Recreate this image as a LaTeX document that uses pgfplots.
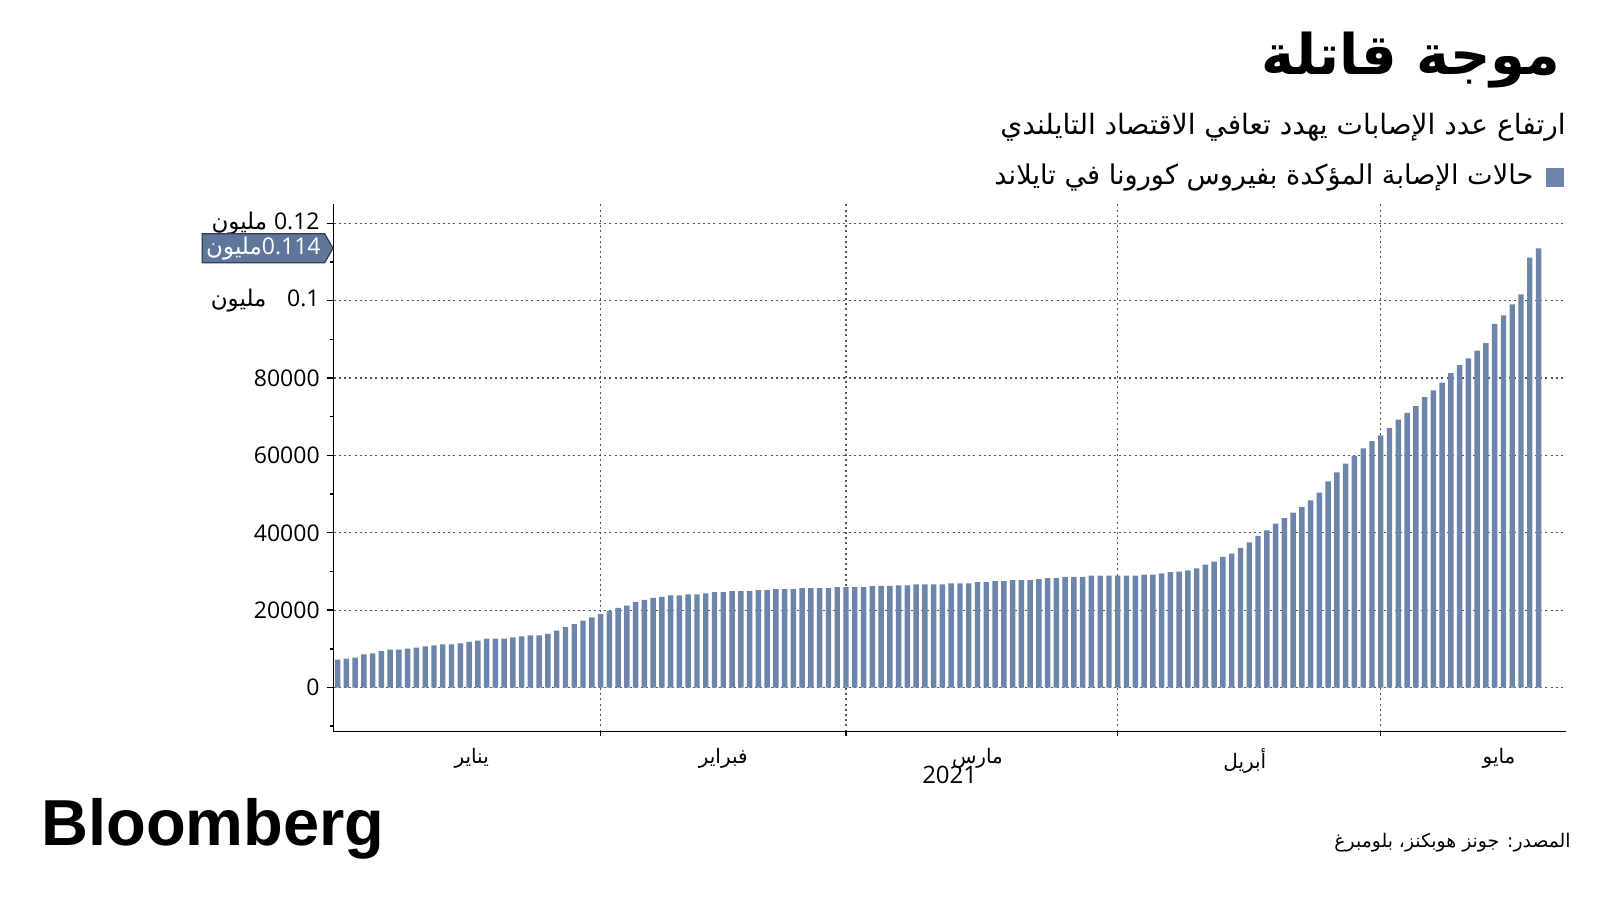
\documentclass[border=0pt]{standalone}
\usepackage{fontspec}
\usepackage{pgfplots}
\pgfplotsset{compat=1.18}
\usetikzlibrary{shapes.symbols}
\TeXXeTstate=1
\setmainfont{Open Sans}
\newfontfamily\arabicfont[Script=Arabic]{DejaVu Sans}
\newfontfamily\logofont{Liberation Sans}
\newcommand{\ar}[1]{{\arabicfont\beginR #1\endR}}
\newcommand{\arw}[1]{\mbox{\arabicfont #1}}
\definecolor{barblue}{HTML}{6D85AA}
\definecolor{annofill}{HTML}{5E7699}
\definecolor{annoedge}{HTML}{2E3F57}
\definecolor{gridc}{HTML}{555555}
\begin{document}
\begin{tikzpicture}[x=1pt,y=1pt]
\path[use as bounding box] (0,0) rectangle (800,450);
\begin{axis}[
  at={(166.85pt,84.2pt)}, anchor=south west,
  scale only axis, width=616pt, height=263.8pt,
  xmin=0.56, xmax=141.1, ymin=-11400, ymax=125000,
  axis x line*=bottom, axis y line*=left,
  axis line style={black, line width=0.7pt, -},
  clip=false,
  scaled y ticks=false,
  xtick={16.3,45,74,104.5,133.5},
  xticklabels={\arw{يناير},\arw{فبراير},\arw{مارس},\arw{أبريل},\arw{مايو}},
  minor xtick={31,59,90,120},
  major x tick style={draw=none},
  xminorgrids=true,
  minor x grid style={gridc, line width=0.6pt, dash pattern=on 1pt off 1.6pt},
  ytick={0,20000,40000,60000,80000,100000,120000},
  yticklabels={0,20000,40000,60000,80000,{\arw{مليون}\hspace{0.9em}0.1},{\arw{مليون}\hspace{0.3em}0.12}},
  minor ytick={-10000,10000,30000,50000,70000,90000,110000},
  ymajorgrids=true,
  major y grid style={gridc, line width=0.6pt, dash pattern=on 1pt off 1.6pt},
  tick align=outside,
  major tick length=3.5pt, minor tick length=2pt,
  tick style={black, line width=0.7pt},
  x tick label style={font=\fontsize{10}{12}\selectfont, yshift=-1.5pt},
  y tick label style={font=\fontsize{11.5}{13}\selectfont},
  xlabel={2021},
  xlabel style={font=\fontsize{12}{13}\selectfont, yshift=10.5pt},
]
\addplot[ybar, fill=barblue, draw=none, bar width=0.62] table {
x y
1 7190
2 7450
3 7710
4 8570
5 8830
6 9450
7 9800
8 9800
9 10050
10 10300
11 10650
12 10900
13 11170
14 11170
15 11430
16 11780
17 12130
18 12650
19 12650
20 12650
21 12990
22 13250
23 13500
24 13500
25 13860
26 14730
27 15580
28 16360
29 17320
30 18100
31 19050
32 19830
33 20600
34 21200
35 22060
36 22680
37 23200
38 23460
39 23800
40 23800
41 24070
42 24070
43 24330
44 24680
45 24680
46 24930
47 24930
48 24930
49 25190
50 25190
51 25450
52 25450
53 25450
54 25710
55 25710
56 25710
57 25710
58 25970
59 25970
60 25970
61 25970
62 26230
63 26300
64 26300
65 26410
66 26410
67 26670
68 26670
69 26670
70 26670
71 26930
72 26930
73 26930
74 27270
75 27270
76 27530
77 27530
78 27790
79 27790
80 27790
81 28050
82 28310
83 28310
84 28570
85 28570
86 28570
87 28930
88 28930
89 28930
90 28930
91 28930
92 28930
93 29200
94 29200
95 29480
96 29800
97 29960
98 30310
99 30830
100 31780
101 32560
102 33770
103 34640
104 36110
105 37500
106 39230
107 40610
108 42350
109 43820
110 45200
111 46680
112 48410
113 50400
114 53260
115 55600
116 57850
117 59900
118 61800
119 63700
120 65200
121 67150
122 69250
123 71020
124 72750
125 75080
126 76810
127 78790
128 81290
129 83370
130 85090
131 87080
132 89060
133 93980
134 96220
135 99070
136 101660
137 111150
138 113555
};
\node[signal, signal to=east, signal pointer angle=120, fill=annofill, draw=annoedge, line width=0.6pt,
  text=white, inner xsep=2pt, inner ysep=1.5pt, minimum height=12.5pt, anchor=east,
  font=\fontsize{11.5}{13}\selectfont] at (axis cs:0.56,113555) {\arw{مليون}\mbox{0.114}};
\end{axis}
% title
\node[anchor=east, inner sep=0pt, font=\fontsize{28}{32}\selectfont\bfseries] at (780.5,420) {\ar{موجة قاتلة}};
\node[anchor=east, inner sep=0pt, font=\fontsize{14}{17}\selectfont] at (783,386.25) {\ar{ارتفاع عدد الإصابات يهدد تعافي الاقتصاد التايلندي}};
\fill[barblue] (773,356.5) rectangle (782,366);
\node[anchor=east, inner sep=0pt, font=\fontsize{13.6}{16}\selectfont] at (766.9,361.25) {\ar{حالات الإصابة المؤكدة بفيروس كورونا في تايلاند}};
% footer
\node[anchor=base west, inner sep=0pt, font=\logofont\bfseries\fontsize{32.5}{36}\selectfont] at (20.5,27.5) {Bloomberg};
\node[anchor=east, inner sep=0pt, font=\fontsize{9.4}{11}\selectfont] at (785.5,28.5) {\ar{المصدر: جونز هوبكنز، بلومبرغ}};
\end{tikzpicture}
\end{document}
